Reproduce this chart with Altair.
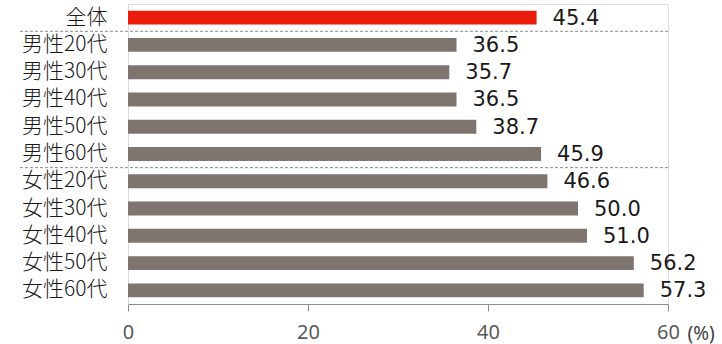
import altair as alt
import pandas as pd

categories = ["全体", "男性20代", "男性30代", "男性40代", "男性50代", "男性60代",
              "女性20代", "女性30代", "女性40代", "女性50代", "女性60代"]
values = [45.4, 36.5, 35.7, 36.5, 38.7, 45.9, 46.6, 50.0, 51.0, 56.2, 57.3]
groups = ["total"] + ["other"] * 10
separators_after = ["全体", "男性60代"]
x_ticks = [0, 20, 40, 60]

df = pd.DataFrame({"cat": categories, "val": values, "grp": groups})
sep_df = pd.DataFrame({"cat": separators_after})

y_enc = alt.Y("cat:N", sort=categories,
              scale=alt.Scale(paddingInner=0.49, paddingOuter=0.245),
              axis=alt.Axis(title=None, ticks=False, labelPadding=21,
                            labelFont="Noto Sans CJK JP", labelFontSize=21,
                            labelFontWeight=300,
                            labelColor="#1a1a1a", domainColor="#d9d9d9",
                            labelLimit=200))

x_scale = alt.Scale(domain=[0, 60], nice=False)

bars = alt.Chart(df).mark_bar().encode(
    x=alt.X("val:Q", scale=x_scale,
            axis=alt.Axis(values=x_ticks, grid=False, tickSize=7,
                          tickColor="#8c8c8c", domainColor="#8c8c8c",
                          labelFont="Noto Sans", labelFontSize=20,
                          labelFlush=False,
                          labelColor="#595959", labelPadding=11,
                          title="(%)", titleFont="Noto Sans",
                          titleFontSize=19, titleFontWeight="normal",
                          titleColor="#404040", titleX=559, titleY=35,
                          titleAlign="left", titleBaseline="alphabetic")),
    y=y_enc,
    color=alt.Color("grp:N", scale=alt.Scale(domain=["total", "other"],
                                             range=["#ec1c0a", "#7f7570"]),
                    legend=None),
)

labels = alt.Chart(df).mark_text(align="left", baseline="middle", dx=16, dy=1,
                                 font="DejaVu Sans", fontSize=21,
                                 color="#1a1a1a").encode(
    x=alt.X("val:Q", scale=x_scale),
    y=alt.Y("cat:N", sort=categories),
    text=alt.Text("val:Q", format=".1f"),
)

seps = alt.Chart(sep_df).mark_rule(strokeDash=[3, 2], color="#8c8c8c",
                                   strokeWidth=1, yOffset=13.65).encode(
    y=alt.Y("cat:N", sort=categories),
    x=alt.value(-108),
    x2=alt.value(542),
)

chart = alt.layer(bars, labels, seps).properties(
    width=540, height=300,
    autosize=alt.AutoSizeParams(type="none"),
    padding={"left": 128, "top": 4, "right": 54, "bottom": 40},
).configure_view(stroke=None).configure(background="white")

chart.save("out.html", embed_options={"renderer": "svg", "actions": False})
